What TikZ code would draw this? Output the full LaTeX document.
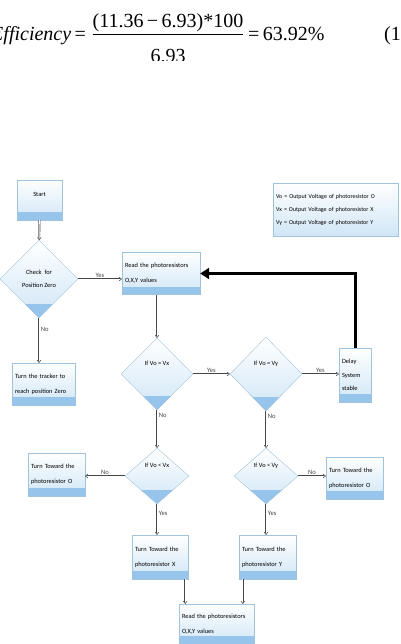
\documentclass[tikz,border=0pt]{standalone}
\usepackage{fontspec}
\setmainfont{Liberation Serif}
\newfontfamily\boxfont{Carlito}
\usetikzlibrary{shapes.geometric,arrows.meta}
\definecolor{boxline}{RGB}{160,195,222}
\definecolor{boxfill}{RGB}{208,230,246}
\definecolor{boxband}{RGB}{150,196,234}
\tikzset{
  eqtext/.style={inner sep=0pt, font=\fontsize{20}{24}\selectfont},
  box/.style={rectangle, draw=boxline, top color=white, bottom color=boxfill, inner sep=3pt, align=left,
    font=\boxfont\fontsize{6.4}{15}\selectfont,
    path picture={\fill[boxband] (path picture bounding box.south west) rectangle ([yshift=8pt]path picture bounding box.south east);}},
  legendbox/.style={rectangle, draw=boxline, top color=white, bottom color=boxfill, inner sep=3pt, align=left,
    font=\boxfont\fontsize{6}{13}\selectfont},
  decision/.style={diamond, draw=boxline, top color=white, bottom color=boxfill, inner sep=0pt, align=center,
    font=\boxfont\fontsize{6.4}{13}\selectfont,
    path picture={\fill[boxband] (path picture bounding box.south west) rectangle ([yshift=14pt]path picture bounding box.south east);}},
  flow/.style={gray!55!black, line width=0.55pt, double=white, double distance=0.8pt, -{Implies}},
  feedback/.style={black, line width=3pt, -{Triangle[length=9pt, width=11pt]}},
  lbl/.style={inner sep=1.5pt, font=\boxfont\fontsize{6.6}{7}\selectfont}
}
\begin{document}
\begin{tikzpicture}[x=1pt, y=-1pt]
  \useasboundingbox (0,0) rectangle (400,644);

  % equation
  \begin{scope}
    \clip (0,0) rectangle (400,61);
    \node[eqtext, anchor=base east] (lhs) at (86,41) {\textit{Efficiency}\,=};
    \node[eqtext, anchor=base] (num) at (168,28) {(11.36\,\textminus\,6.93)*100};
    \node[eqtext, anchor=base] (den) at (168,63) {6.93};
    \draw[line width=0.8pt] (num.south west |- 0,34) -- (num.south east |- 0,34);
    \node[eqtext, anchor=base west] (rhs) at (248,41) {=\,63.92\%};
    \node[eqtext, anchor=base west] (eqno) at (384,41) {(1};
  \end{scope}

  % flowchart
  \node[box, minimum width=45pt, minimum height=40pt, align=center, text depth=12pt] (start) at (39.5,200) {Start};
  \node[decision, minimum width=78pt, minimum height=78pt] (check) at (39,279) {Check\ \ for\\Position Zero};
  \node[box, text width=72pt, minimum height=42pt] (read1) at (161,273.5) {Read the photoresistors\\O,X,Y values};
  \node[legendbox, text width=119pt, minimum height=53pt] (legend) at (335.5,209.5)
    {Vo = Output Voltage of photoresistor O\\Vx = Output Voltage of photoresistor X\\Vy = Output Voltage of photoresistor Y};
  \node[box, text width=57pt, minimum height=42pt] (tracker) at (43.5,384) {Turn the tracker to\\reach position Zero};

  \node[decision, minimum width=72pt, minimum height=72pt, text depth=22pt] (vx) at (157,374) {If Vo = Vx};
  \node[decision, minimum width=72pt, minimum height=74pt, text depth=22pt] (vy) at (266,374) {If Vo = Vy};
  \node[box, text width=26pt, minimum height=54pt, font=\boxfont\fontsize{6.4}{13.5}\selectfont] (delay) at (355,375) {Delay\\System\\stable};

  \node[decision, minimum width=64pt, minimum height=56pt, text depth=22pt] (ltx) at (157,476) {If Vo < Vx};
  \node[decision, minimum width=64pt, minimum height=56pt, text depth=22pt] (lty) at (266,476) {If Vo < Vy};
  \node[box, text width=51pt, minimum height=43pt] (towardO1) at (56.5,474.5) {Turn Toward the\\photoresistor O};
  \node[box, text width=51pt, minimum height=42pt] (towardO2) at (354.5,478) {Turn Toward the\\photoresistor O};

  \node[box, text width=50pt, minimum height=44pt] (towardX) at (160,557) {Turn Toward the\\photoresistor X};
  \node[box, text width=51pt, minimum height=44pt] (towardY) at (267.5,557) {Turn Toward the\\photoresistor Y};
  \node[box, text width=69pt, minimum height=40pt] (read2) at (216.5,624) {Read the photoresistors\\O,X,Y values};

  \coordinate (xout) at ([xshift=-3pt]towardX.south east);
  \coordinate (yout) at ([xshift=4pt]towardY.south west);

  % connectors
  \draw[flow] (start) -- (check);
  \draw[flow] (check.east) -- node[lbl, above] {Yes} (check.east -| read1.west);
  \draw[flow] (check.south) -- node[lbl, right, pos=0.25] {No} (check.south |- tracker.north);
  \draw[flow] (vx |- read1.south) -- (vx.north);
  \draw[flow] (vx) -- node[lbl, above] {Yes} (vy);
  \draw[flow] (vy.east) -- node[lbl, above] {Yes} (vy.east -| delay.west);
  \draw[feedback] (delay.north) |- (read1.east);
  \draw[flow] (vx) -- node[lbl, right, pos=0.15] {No} (ltx);
  \draw[flow] (vy) -- node[lbl, right, pos=0.15] {No} (lty);
  \draw[flow] (ltx.west) -- node[lbl, above] {No} (ltx.west -| towardO1.east);
  \draw[flow] (lty.east) -- node[lbl, above] {No} (lty.east -| towardO2.west);
  \draw[flow] (ltx.south) -- node[lbl, right, pos=0.3] {Yes} (ltx.south |- towardX.north);
  \draw[flow] (lty.south) -- node[lbl, right, pos=0.3] {Yes} (lty.south |- towardY.north);
  \draw[flow] (xout) -- (xout |- read2.north);
  \draw[flow] (yout) -- (yout |- read2.north);
\end{tikzpicture}
\end{document}
